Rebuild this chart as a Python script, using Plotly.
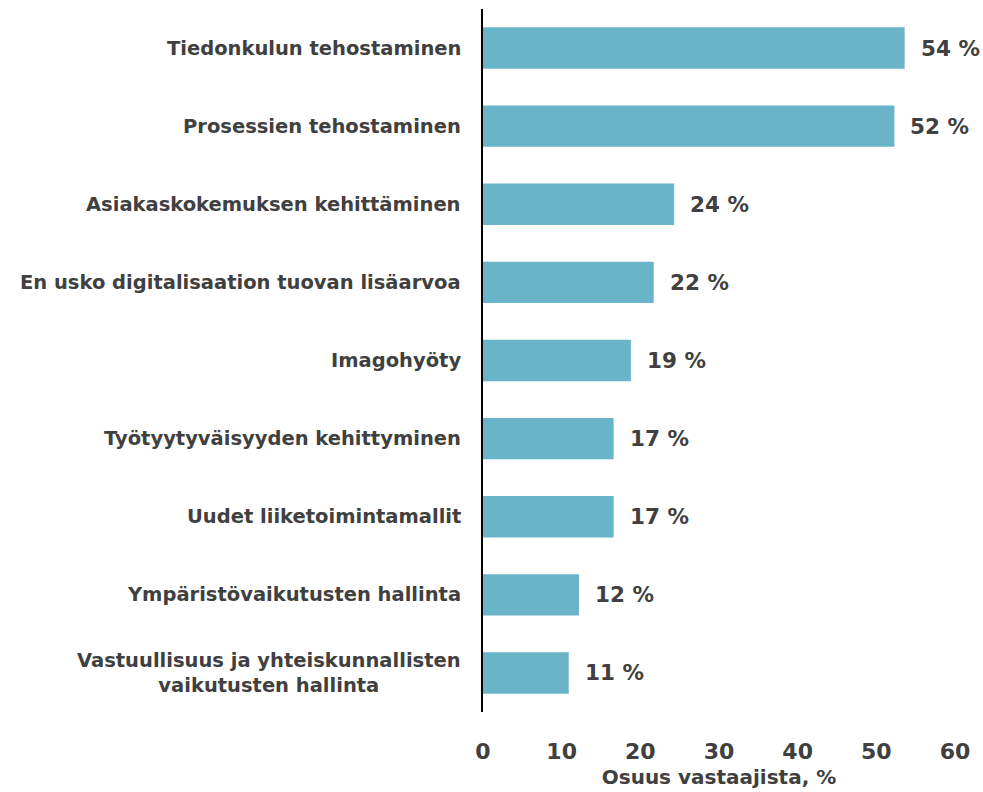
import plotly.graph_objects as go

categories = [
    "Tiedonkulun tehostaminen",
    "Prosessien tehostaminen",
    "Asiakaskokemuksen kehittäminen",
    "En usko digitalisaation tuovan lisäarvoa",
    "Imagohyöty",
    "Työtyytyväisyyden kehittyminen",
    "Uudet liiketoimintamallit",
    "Ympäristövaikutusten hallinta",
    "Vastuullisuus ja yhteiskunnallisten<br>vaikutusten hallinta",
]
values = [53.6, 52.3, 24.3, 21.7, 18.8, 16.6, 16.6, 12.2, 10.9]
value_labels = ["54 %", "52 %", "24 %", "22 %", "19 %", "17 %", "17 %", "12 %", "11 %"]
x_ticks = [0, 10, 20, 30, 40, 50, 60]
x_title = "Osuus vastaajista, %"

FONT = "DejaVu Sans"
TXT = "#404040"
BAR = "#69B4C8"

fig = go.Figure()
fig.add_trace(go.Bar(
    x=values,
    y=list(range(len(categories))),
    orientation="h",
    marker=dict(color=BAR, line=dict(width=0)),
    cliponaxis=False,
    width=0.53,
    hoverinfo="skip",
))

for i, c in enumerate(categories):
    fig.add_annotation(
        x=0, xref="paper", y=i, yref="y",
        text=c, showarrow=False, xanchor="right", xshift=-20,
        align="center",
        font=dict(family=FONT, size=19.5, color=TXT, weight="bold"),
    )

for i, (v, t) in enumerate(zip(values, value_labels)):
    fig.add_annotation(
        x=v, xref="x", y=i, yref="y",
        text=t, showarrow=False, xanchor="left", xshift=14,
        font=dict(family=FONT, size=21.5, color=TXT, weight="bold"),
    )

fig.update_layout(
    width=983, height=792,
    margin=dict(l=483, r=28, t=9, b=80, autoexpand=False),
    paper_bgcolor="white", plot_bgcolor="white",
    showlegend=False,
    xaxis=dict(
        range=[0, 60], tickvals=x_ticks, showgrid=False, zeroline=False,
        showline=False, ticks="outside", ticklen=20, tickcolor="rgba(0,0,0,0)",
        tickfont=dict(family=FONT, size=22, color=TXT, weight="bold"),
        title=dict(text=x_title, standoff=6,
                   font=dict(family=FONT, size=20, color=TXT, weight="bold")),
    ),
    yaxis=dict(
        range=[len(categories) - 0.5, -0.5], showticklabels=False,
        showgrid=False, zeroline=False, showline=True, linecolor="black",
        linewidth=2, ticks="",
    ),
)

fig.write_html(
    "out.html",
    config={"displayModeBar": False},
    post_script="document.body.style.margin='0';document.body.style.overflow='hidden';",
)
